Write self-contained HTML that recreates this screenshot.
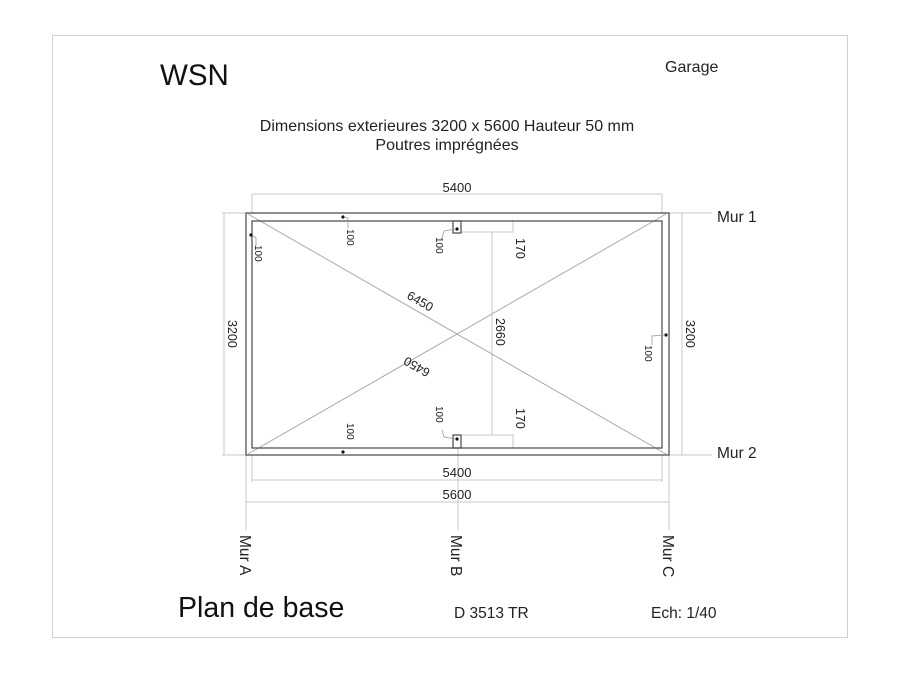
<!DOCTYPE html>
<html><head><meta charset="utf-8"><style>
html,body{margin:0;padding:0;background:#fff;}
svg{display:block;font-family:"Liberation Sans",Arial,sans-serif;}
</style></head><body>
<svg width="900" height="675" viewBox="0 0 900 675" xmlns="http://www.w3.org/2000/svg">
<rect x="52.5" y="35.5" width="795" height="602" fill="none" stroke="#d0d0d0" stroke-width="1"/>
<text x="160" y="85" font-size="29.5" fill="#111">WSN</text>
<text x="665" y="72" font-size="16" fill="#222">Garage</text>
<text x="447" y="131" font-size="16" fill="#222" text-anchor="middle">Dimensions exterieures 3200 x 5600 Hauteur 50 mm</text>
<text x="447" y="150" font-size="16" fill="#222" text-anchor="middle">Poutres imprégnées</text>

<g stroke="#c8c8c8" stroke-width="1" fill="none">
<line x1="252" y1="194" x2="662" y2="194"/>
<line x1="252" y1="194" x2="252" y2="214"/>
<line x1="662" y1="194" x2="662" y2="214"/>
<line x1="222" y1="213" x2="246" y2="213"/>
<line x1="222" y1="455" x2="246" y2="455"/>
<line x1="224" y1="213" x2="224" y2="455"/>
<line x1="682" y1="213" x2="682" y2="455"/>
<line x1="669" y1="213" x2="712" y2="213"/>
<line x1="669" y1="455" x2="712" y2="455"/>
<line x1="252" y1="480" x2="662" y2="480"/>
<line x1="246" y1="502" x2="669" y2="502"/>
<line x1="246" y1="455" x2="246" y2="530"/>
<line x1="252" y1="455" x2="252" y2="482"/>
<line x1="662" y1="455" x2="662" y2="482"/>
<line x1="669" y1="455" x2="669" y2="530"/>
<line x1="458" y1="448" x2="458" y2="530"/>
<line x1="492" y1="232" x2="492" y2="435"/>
<line x1="462" y1="232" x2="514" y2="232"/>
<line x1="462" y1="435" x2="514" y2="435"/>
<line x1="513" y1="220" x2="513" y2="232"/>
<line x1="513" y1="435" x2="513" y2="448"/>
<line x1="248" y1="214" x2="666" y2="454" stroke="#aaa"/>
<line x1="248" y1="454" x2="666" y2="214" stroke="#aaa"/>
</g>
<g stroke="#555" stroke-width="1.3" fill="none">
<rect x="246" y="213" width="423" height="242"/>
<rect x="252" y="221" width="410" height="227"/>
<rect x="453" y="221" width="8" height="12"/>
<rect x="453" y="435" width="8" height="13"/>
</g>
<g fill="#111">
<circle cx="343" cy="217" r="1.6"/><circle cx="251" cy="235" r="1.6"/>
<circle cx="457" cy="229" r="1.6"/><circle cx="457" cy="439" r="1.6"/>
<circle cx="343" cy="452" r="1.6"/><circle cx="666" cy="335" r="1.6"/>
</g>
<g stroke="#999" fill="none" stroke-width="0.8">
<polyline points="344,217 348,218 348,228"/>
<polyline points="252,235 256,238 256,246"/>
<polyline points="456,229 444,231 442,238"/>
<polyline points="456,439 444,437 442,430"/>
<polyline points="665,335 652,336 652,345"/>
</g>
<g font-size="13" fill="#222" text-anchor="middle">
<text x="457" y="192">5400</text>
<text x="457" y="477">5400</text>
<text x="457" y="499">5600</text>
</g>
<g font-size="10" fill="#222">
<text transform="translate(347,229) rotate(90)">100</text>
<text transform="translate(255,245) rotate(90)">100</text>
<text transform="translate(436,237) rotate(90)">100</text>
<text transform="translate(436,406) rotate(90)">100</text>
<text transform="translate(347,423) rotate(90)">100</text>
<text transform="translate(645,345) rotate(90)">100</text>
</g>
<g font-size="12.5" fill="#222">
<text transform="translate(516,238) rotate(90)">170</text>
<text transform="translate(516,408) rotate(90)">170</text>
<text transform="translate(496,318) rotate(90)">2660</text>
<text transform="translate(228,320) rotate(90)">3200</text>
<text transform="translate(686,320) rotate(90)">3200</text>
<text transform="translate(406,298) rotate(29.8)">6450</text>
<text transform="translate(431,370) rotate(-150.2)">6450</text>
</g>
<g font-size="15.5" fill="#222">
<text x="717" y="222">Mur 1</text>
<text x="717" y="458">Mur 2</text>
<text transform="translate(240,535) rotate(90)">Mur A</text>
<text transform="translate(451,535) rotate(90)">Mur B</text>
<text transform="translate(663,535) rotate(90)">Mur C</text>
<text x="454" y="618">D 3513 TR</text>
<text x="651" y="618">Ech: 1/40</text>
</g>
<text x="178" y="617" font-size="28.5" fill="#111">Plan de base</text>
</svg>
</body></html>
